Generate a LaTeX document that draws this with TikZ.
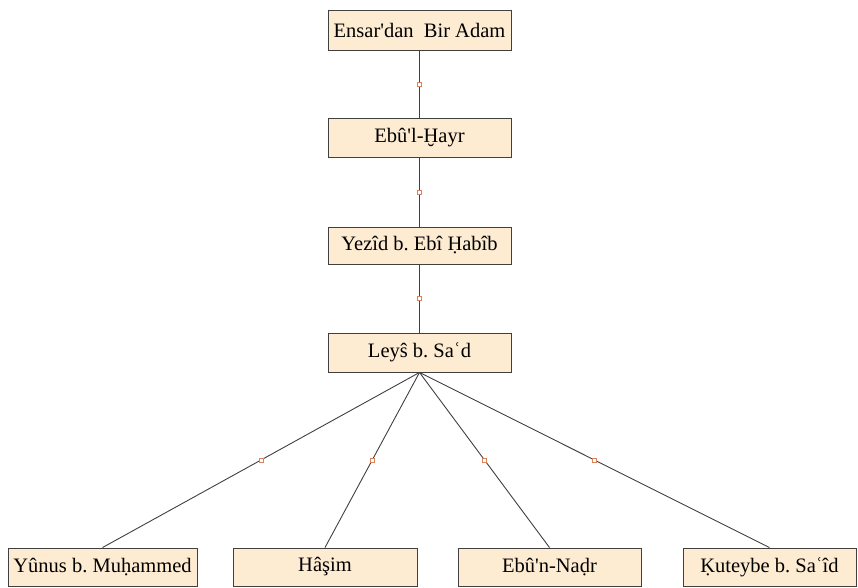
\documentclass[tikz,border=0pt]{standalone}
\usepackage{fontspec}
\setmainfont{Liberation Serif}[Ligatures=TeXOff]
\begin{document}
\frenchspacing
\begin{tikzpicture}[x=1pt,y=-1pt,
  person/.style={draw=black!75, fill=boxfill, line width=0.9pt, inner sep=0pt,
    font=\fontsize{20.5}{23}\selectfont, text=black},
  link/.style={draw=black!75, line width=0.9pt},
  midmark/.style={draw=markc, fill=white, line width=0.6pt, minimum size=4pt, inner sep=0pt, rectangle}]
\definecolor{boxfill}{HTML}{FDEBD2}
\definecolor{markc}{HTML}{D9825E}
\useasboundingbox (0,0) rectangle (858,587);
\node[person, minimum width=183pt, minimum height=40pt] (a) at (419.5,30) {Ensar'dan\ \ Bir Adam};
\node[person, minimum width=183pt, minimum height=39pt] (b) at (419.5,137.5) {Ebû'l-Ḫayr};
\node[person, minimum width=183pt, minimum height=37pt] (c) at (419.5,245.5) {Yezîd b. Ebî Ḥabîb};
\node[person, minimum width=183pt, minimum height=39pt] (d) at (419.5,352.5) {Leyŝ b. Saʿd};
\node[person, minimum width=189pt, minimum height=38pt] (e) at (102.5,567) {Yûnus b. Muḥammed};
\node[person, minimum width=184pt, minimum height=38pt] (f) at (325,567) {Hâşim};
\node[person, minimum width=183pt, minimum height=38pt] (g) at (549.5,567) {Ebû'n-Naḍr};
\node[person, minimum width=173pt, minimum height=38pt] (h) at (769.5,567) {Ḳuteybe b. Saʿîd};
\draw[link] (a.south) -- node[midmark]{} (b.north);
\draw[link] (b.south) -- node[midmark]{} (c.north);
\draw[link] (c.south) -- node[midmark]{} (d.north);
\draw[link] (d.south) -- node[midmark]{} (e.north);
\draw[link] (d.south) -- node[midmark]{} (f.north);
\draw[link] (d.south) -- node[midmark]{} (g.north);
\draw[link] (d.south) -- node[midmark]{} (h.north);
\end{tikzpicture}
\end{document}
